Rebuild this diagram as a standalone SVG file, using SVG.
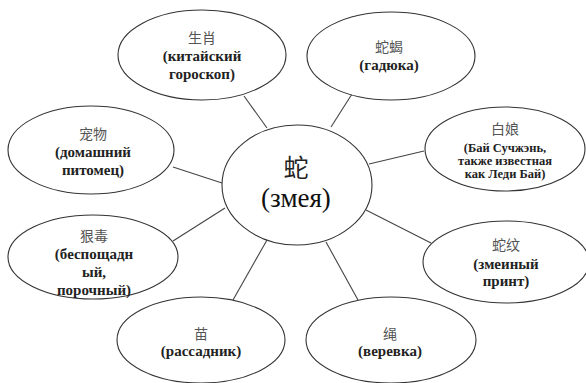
<svg xmlns="http://www.w3.org/2000/svg" width="586" height="383" viewBox="0 0 586 383" font-family="Liberation Serif, Times New Roman, serif">
<style>
.n{fill:#fff;stroke:#333;stroke-width:1.1}
.c line{stroke:#444;stroke-width:1.1}
.zh{font-family:Noto Sans CJK SC,sans-serif;font-size:14px;fill:#555;text-anchor:middle}
.ru{font-weight:bold;font-size:15px;fill:#222;text-anchor:middle}
.rs{font-weight:bold;font-size:12.5px;fill:#222;text-anchor:middle}
.big{font-size:27px;fill:#111;text-anchor:middle}
</style>
<rect width="586" height="383" fill="#fff"/>
<g class="c">
<line x1="267" y1="128" x2="244" y2="96"/>
<line x1="222" y1="183" x2="173" y2="167"/>
<line x1="331" y1="127" x2="352" y2="94"/>
<line x1="369" y1="164" x2="424" y2="151"/>
<line x1="225" y1="208" x2="173" y2="241"/>
<line x1="267" y1="240" x2="233" y2="300"/>
<line x1="366" y1="210" x2="431" y2="243"/>
<line x1="326" y1="242" x2="358" y2="300"/>
</g>
<g id="center">
<ellipse class="n" cx="297" cy="185" rx="75" ry="60"/>
<text x="296" y="177" font-family="Noto Sans CJK SC, sans-serif" font-size="25" fill="#222" text-anchor="middle">蛇</text>
<text class="big" x="296" y="207" font-family="Liberation Serif, serif">(змея)</text>
</g>
<g id="shengxiao">
<ellipse class="n" cx="202" cy="55" rx="84" ry="45"/>
<text class="zh" x="202" y="43">生肖</text>
<text class="ru" x="202" y="61" font-family="Liberation Serif, serif">(китайский</text>
<text class="ru" x="202" y="79" font-family="Liberation Serif, serif">гороскоп)</text>
</g>
<g id="shexie">
<ellipse class="n" cx="391" cy="56" rx="84" ry="44"/>
<text class="zh" x="389" y="52">蛇蝎</text>
<text class="ru" x="389" y="70" font-family="Liberation Serif, serif">(гадюка)</text>
</g>
<g id="chongwu">
<ellipse class="n" cx="91" cy="150" rx="83" ry="44"/>
<text class="zh" x="93" y="139">宠物</text>
<text class="ru" x="93" y="157" font-family="Liberation Serif, serif">(домашний</text>
<text class="ru" x="93" y="175" font-family="Liberation Serif, serif">питомец)</text>
</g>
<g id="bainiang">
<ellipse class="n" cx="505" cy="149" rx="80" ry="42"/>
<text class="zh" x="505" y="134">白娘</text>
<text class="rs" x="505" y="152" font-family="Liberation Serif, serif">(Бай Сучжэнь,</text>
<text class="rs" x="505" y="165" font-family="Liberation Serif, serif">также известная</text>
<text class="rs" x="505" y="178" font-family="Liberation Serif, serif">как Леди Бай)</text>
</g>
<g id="henduo">
<ellipse class="n" cx="93" cy="257" rx="85" ry="42"/>
<text class="zh" x="94" y="241">狠毒</text>
<text class="ru" x="94" y="259" font-family="Liberation Serif, serif">(беспощадн</text>
<text class="ru" x="94" y="277" font-family="Liberation Serif, serif">ый,</text>
<text class="ru" x="94" y="295" font-family="Liberation Serif, serif">порочный)</text>
</g>
<g id="wenlu">
<ellipse class="n" cx="506" cy="262" rx="83" ry="41"/>
<text class="zh" x="506" y="250">蛇纹</text>
<text class="ru" x="506" y="269" font-family="Liberation Serif, serif">(змеиный</text>
<text class="ru" x="506" y="286" font-family="Liberation Serif, serif">принт)</text>
</g>
<g id="miao">
<ellipse class="n" cx="201" cy="340" rx="84" ry="43"/>
<text class="zh" x="201" y="339">苗</text>
<text class="ru" x="201" y="356" font-family="Liberation Serif, serif">(рассадник)</text>
</g>
<g id="sheng">
<ellipse class="n" cx="391" cy="340" rx="85" ry="43"/>
<text class="zh" x="390" y="339">绳</text>
<text class="ru" x="390" y="356" font-family="Liberation Serif, serif">(веревка)</text>
</g>
</svg>
